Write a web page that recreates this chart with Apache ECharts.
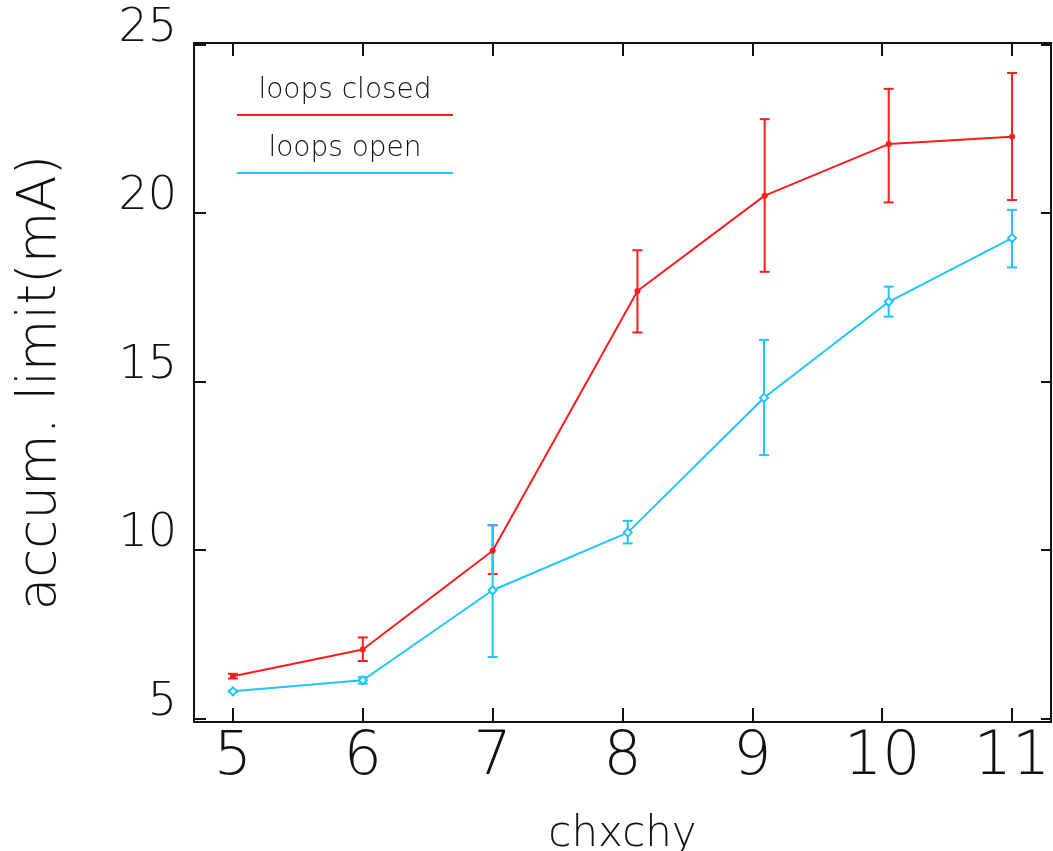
<!DOCTYPE html>
<html>
<head>
<meta charset="utf-8">
<script src="https://cdn.jsdelivr.net/npm/echarts@6/dist/echarts.min.js"></script>
<style>
  html, body { margin: 0; padding: 0; background: #fff; }
  #chart { width: 1053px; height: 851px; }
</style>
</head>
<body>
<div id="chart"></div>
<script>
// Accumulation limit vs chxchy, with loops closed and open
const xTicks = [5, 6, 7, 8, 9, 10, 11];
const yTicks = [5, 10, 15, 20, 25];

const xClosed  = [5, 6, 7, 8.115, 9.095, 10.05, 11];
const yClosed  = [6.26, 7.05, 9.98, 17.69, 20.52, 22.05, 22.27];
const loClosed = [6.19, 6.71, 9.29, 16.46, 18.26, 20.32, 20.39];
const hiClosed = [6.33, 7.41, 10.74, 18.90, 22.79, 23.69, 24.16];

const xOpen  = [5, 6, 7, 8.04, 9.09, 10.05, 11];
const yOpen  = [5.81, 6.14, 8.81, 10.52, 14.52, 17.37, 19.26];
const loOpen = [5.79, 6.04, 6.83, 10.20, 12.82, 16.93, 18.39];
const hiOpen = [5.83, 6.23, 10.74, 10.87, 16.24, 17.82, 20.10];

const RED = '#ff1c1c';
const BLUE = '#20c4ff';
const INK = '#111111';
const FONT = "'DejaVu Sans', sans-serif";

function pairs(xs, ys) { return xs.map((x, i) => [x, ys[i]]); }
function bars(xs, lo, hi) { return xs.map((x, i) => [x, lo[i], hi[i]]); }

function errorBar(color) {
  return function (params, api) {
    const x = api.value(0);
    const top = api.coord([x, api.value(2)]);
    const bot = api.coord([x, api.value(1)]);
    const w = 5;
    const style = { stroke: color, lineWidth: 2 };
    return {
      type: 'group',
      children: [
        { type: 'line', shape: { x1: top[0], y1: top[1], x2: bot[0], y2: bot[1] }, style },
        { type: 'line', shape: { x1: top[0] - w, y1: top[1], x2: top[0] + w, y2: top[1] }, style },
        { type: 'line', shape: { x1: bot[0] - w, y1: bot[1], x2: bot[0] + w, y2: bot[1] }, style }
      ]
    };
  };
}

const X_MIN = 4.7, X_MAX = 11.3, Y_MIN = 4.9, Y_MAX = 25.05;

const axisLineStyle = { lineStyle: { color: INK, width: 2 } };

const chart = echarts.init(document.getElementById('chart'), null, { renderer: 'canvas' });
chart.setOption({
  backgroundColor: '#ffffff',
  animation: false,
  grid: { left: 194, right: 2, top: 43, bottom: 129, containLabel: false, outerBoundsMode: 'none' },
  xAxis: [
    {
      type: 'value', position: 'bottom', min: X_MIN, max: X_MAX,
      name: 'chxchy', nameLocation: 'middle', nameGap: 92,
      nameTextStyle: { fontFamily: FONT, fontSize: 42, color: INK, fontWeight: 200 },
      axisLine: { show: true, onZero: false, ...axisLineStyle },
      axisTick: { show: true, inside: true, length: 14, customValues: xTicks, lineStyle: { color: INK, width: 2 } },
      axisLabel: { show: true, customValues: xTicks, margin: 6, fontFamily: FONT, fontWeight: 200, fontSize: 60, color: INK, lineHeight: 60 },
      splitLine: { show: false }
    },
    {
      type: 'value', position: 'top', min: X_MIN, max: X_MAX,
      axisLine: { show: true, onZero: false, ...axisLineStyle },
      axisTick: { show: true, inside: true, length: 13, customValues: xTicks, lineStyle: { color: INK, width: 2 } },
      axisLabel: { show: false },
      splitLine: { show: false }
    }
  ],
  yAxis: [
    {
      type: 'value', position: 'left', min: Y_MIN, max: Y_MAX,
      name: 'accum. limit(mA)', nameLocation: 'middle', nameGap: 126, nameRotate: 90,
      nameTextStyle: { fontFamily: FONT, fontSize: 53, color: INK, fontWeight: 200 },
      axisLine: { show: true, onZero: false, ...axisLineStyle },
      axisTick: { show: true, inside: true, length: 12, customValues: yTicks, lineStyle: { color: INK, width: 2 } },
      axisLabel: { show: true, customValues: yTicks, margin: 17, fontFamily: FONT, fontWeight: 200, fontSize: 46, color: INK, verticalAlign: 'bottom', lineHeight: 32 },
      splitLine: { show: false }
    },
    {
      type: 'value', position: 'right', min: Y_MIN, max: Y_MAX,
      axisLine: { show: true, onZero: false, ...axisLineStyle },
      axisTick: { show: true, inside: true, length: 10, customValues: yTicks, lineStyle: { color: INK, width: 2 } },
      axisLabel: { show: false },
      splitLine: { show: false }
    }
  ],
  series: [
    {
      name: 'loops closed', type: 'line', data: pairs(xClosed, yClosed),
      symbol: 'circle', symbolSize: 6, showSymbol: true,
      lineStyle: { color: RED, width: 2 }, itemStyle: { color: RED }, z: 3
    },
    {
      name: 'loops open', type: 'line', data: pairs(xOpen, yOpen),
      symbol: 'emptyDiamond', symbolSize: 8, showSymbol: true,
      lineStyle: { color: BLUE, width: 2 }, itemStyle: { color: BLUE, borderColor: BLUE, borderWidth: 1.5 }, z: 3
    },
    {
      type: 'custom', data: bars(xClosed, loClosed, hiClosed),
      renderItem: errorBar(RED), encode: { x: 0, y: [1, 2] }, z: 2
    },
    {
      type: 'custom', data: bars(xOpen, loOpen, hiOpen),
      renderItem: errorBar(BLUE), encode: { x: 0, y: [1, 2] }, z: 2
    }
  ],
  graphic: [
    { type: 'text', x: 345, y: 91, style: { text: 'loops closed', font: "200 28px 'DejaVu Sans', sans-serif", fill: INK, align: 'center', verticalAlign: 'middle' } },
    { type: 'line', shape: { x1: 237, y1: 115, x2: 453, y2: 115 }, style: { stroke: RED, lineWidth: 2 } },
    { type: 'text', x: 345, y: 149, style: { text: 'loops open', font: "200 28px 'DejaVu Sans', sans-serif", fill: INK, align: 'center', verticalAlign: 'middle' } },
    { type: 'line', shape: { x1: 237, y1: 173, x2: 453, y2: 173 }, style: { stroke: BLUE, lineWidth: 2 } }
  ]
});
</script>
</body>
</html>
